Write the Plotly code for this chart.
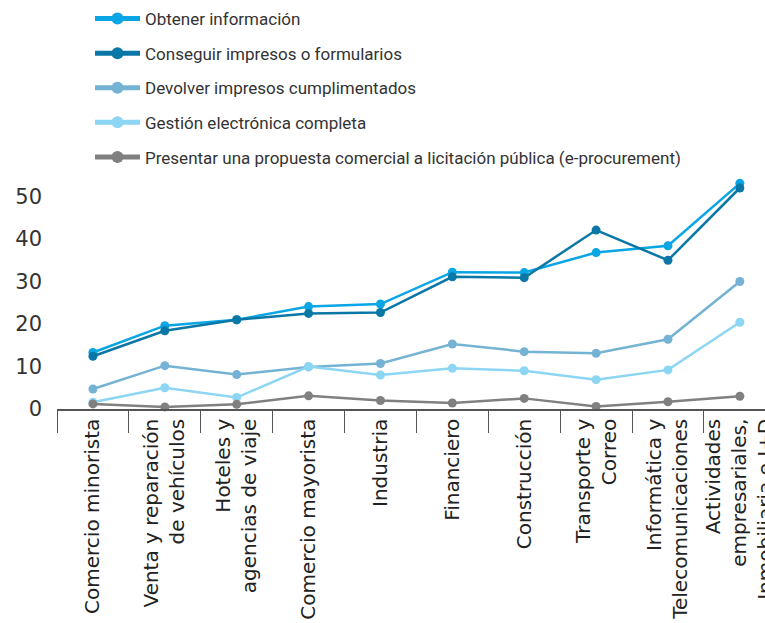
import plotly.graph_objects as go

sectors = [
    "Comercio minorista",
    "Venta y reparación<br>de vehículos",
    "Hoteles y<br>agencias de viaje",
    "Comercio mayorista",
    "Industria",
    "Financiero",
    "Construcción",
    "Transporte y<br>Correo",
    "Informática y<br>Telecomunicaciones",
    "Actividades<br>empresariales,<br>Inmobiliaria e I+D",
]

obtener = [13.3, 19.6, 21.0, 24.1, 24.7, 32.2, 32.1, 36.8, 38.4, 53.1]
conseguir = [12.4, 18.4, 21.0, 22.5, 22.7, 31.1, 30.9, 42.1, 35.0, 52.0]
devolver = [4.7, 10.2, 8.1, 9.9, 10.7, 15.3, 13.5, 13.1, 16.4, 30.0]
gestion = [1.6, 5.0, 2.7, 10.0, 8.0, 9.6, 9.0, 6.9, 9.2, 20.4]
presentar = [1.2, 0.5, 1.1, 3.1, 2.0, 1.4, 2.5, 0.6, 1.7, 3.0]

series = [
    ("Obtener información", obtener, "#0aa5e4"),
    ("Conseguir impresos o formularios", conseguir, "#0a77a6"),
    ("Devolver impresos cumplimentados", devolver, "#74b3d3"),
    ("Gestión electrónica completa", gestion, "#8cd6f4"),
    ("Presentar una propuesta comercial a licitación pública (e-procurement)", presentar, "#808080"),
]

LEGEND_FONT = "Roboto"
AXIS_FONT = "DejaVu Sans"

# DejaVu Sans advance widths (font units, 2048 per em), used to pad the
# shorter lines of multi-line category labels so all lines end at the axis.
_W = {
    " ": 651, "\u00a0": 651, ",": 651, "+": 1716,
    "a": 1255, "á": 1255, "b": 1300, "c": 1126, "d": 1300, "e": 1260, "é": 1260,
    "f": 721, "g": 1300, "h": 1298, "i": 569, "í": 569, "j": 569, "k": 1186,
    "l": 569, "m": 1995, "n": 1298, "o": 1253, "ó": 1253, "p": 1300, "q": 1300,
    "r": 842, "s": 1067, "t": 803, "u": 1298, "v": 1212, "w": 1675, "x": 1212,
    "y": 1212, "z": 1075,
    "A": 1401, "C": 1430, "D": 1577, "H": 1540, "I": 604, "T": 1251, "V": 1401,
}


def _width(s):
    return sum(_W.get(ch, 1250) for ch in s)


def align_end(label):
    lines = label.split("<br>")
    wmax = max(_width(l) for l in lines)
    out = []
    for l in lines:
        n = round((wmax - _width(l)) / _W[" "])
        out.append("\u00a0" * n + l)
    return "<br>".join(out)


tick_text = [align_end(s) for s in sectors]

fig = go.Figure()
for i, (name, vals, color) in enumerate(series):
    fig.add_trace(go.Scatter(
        x=sectors, y=vals, name=name, mode="lines+markers",
        line=dict(color=color, width=2.5),
        marker=dict(color=color, size=9),
        cliponaxis=False,
        legendgroup=f"g{i}",
    ))

fig.update_layout(
    width=765, height=623,
    margin=dict(l=57, r=0, t=171, b=214, autoexpand=False),
    plot_bgcolor="white", paper_bgcolor="white",
    font=dict(family=AXIS_FONT, color="#333333"),
    showlegend=True,
    legend=dict(
        xref="container", yref="container",
        x=90 / 765, y=1 - 1 / 623, xanchor="left", yanchor="top",
        font=dict(size=17, color="#333333", family=LEGEND_FONT),
        tracegroupgap=9.5, bgcolor="rgba(0,0,0,0)",
        traceorder="grouped", itemwidth=45, itemsizing="constant",
    ),
    xaxis=dict(
        type="category", range=[-0.5, 9.35],
        tickvals=sectors, ticktext=tick_text,
        showline=True, linecolor="#555555", linewidth=1.5,
        ticks="outside", tickson="boundaries", ticklen=22, tickwidth=1,
        tickcolor="#555555", tickangle=-90, ticklabelstandoff=0,
        tickfont=dict(size=20, color="#222222", family=AXIS_FONT),
        showgrid=False, zeroline=False,
    ),
    yaxis=dict(
        range=[0, 56], tickvals=[0, 10, 20, 30, 40, 50],
        showgrid=False, zeroline=False, showline=False, ticks="",
        tickfont=dict(size=21, color="#333333", family=AXIS_FONT),
        ticklabelstandoff=14,
    ),
)

fig.write_html("out.html")
